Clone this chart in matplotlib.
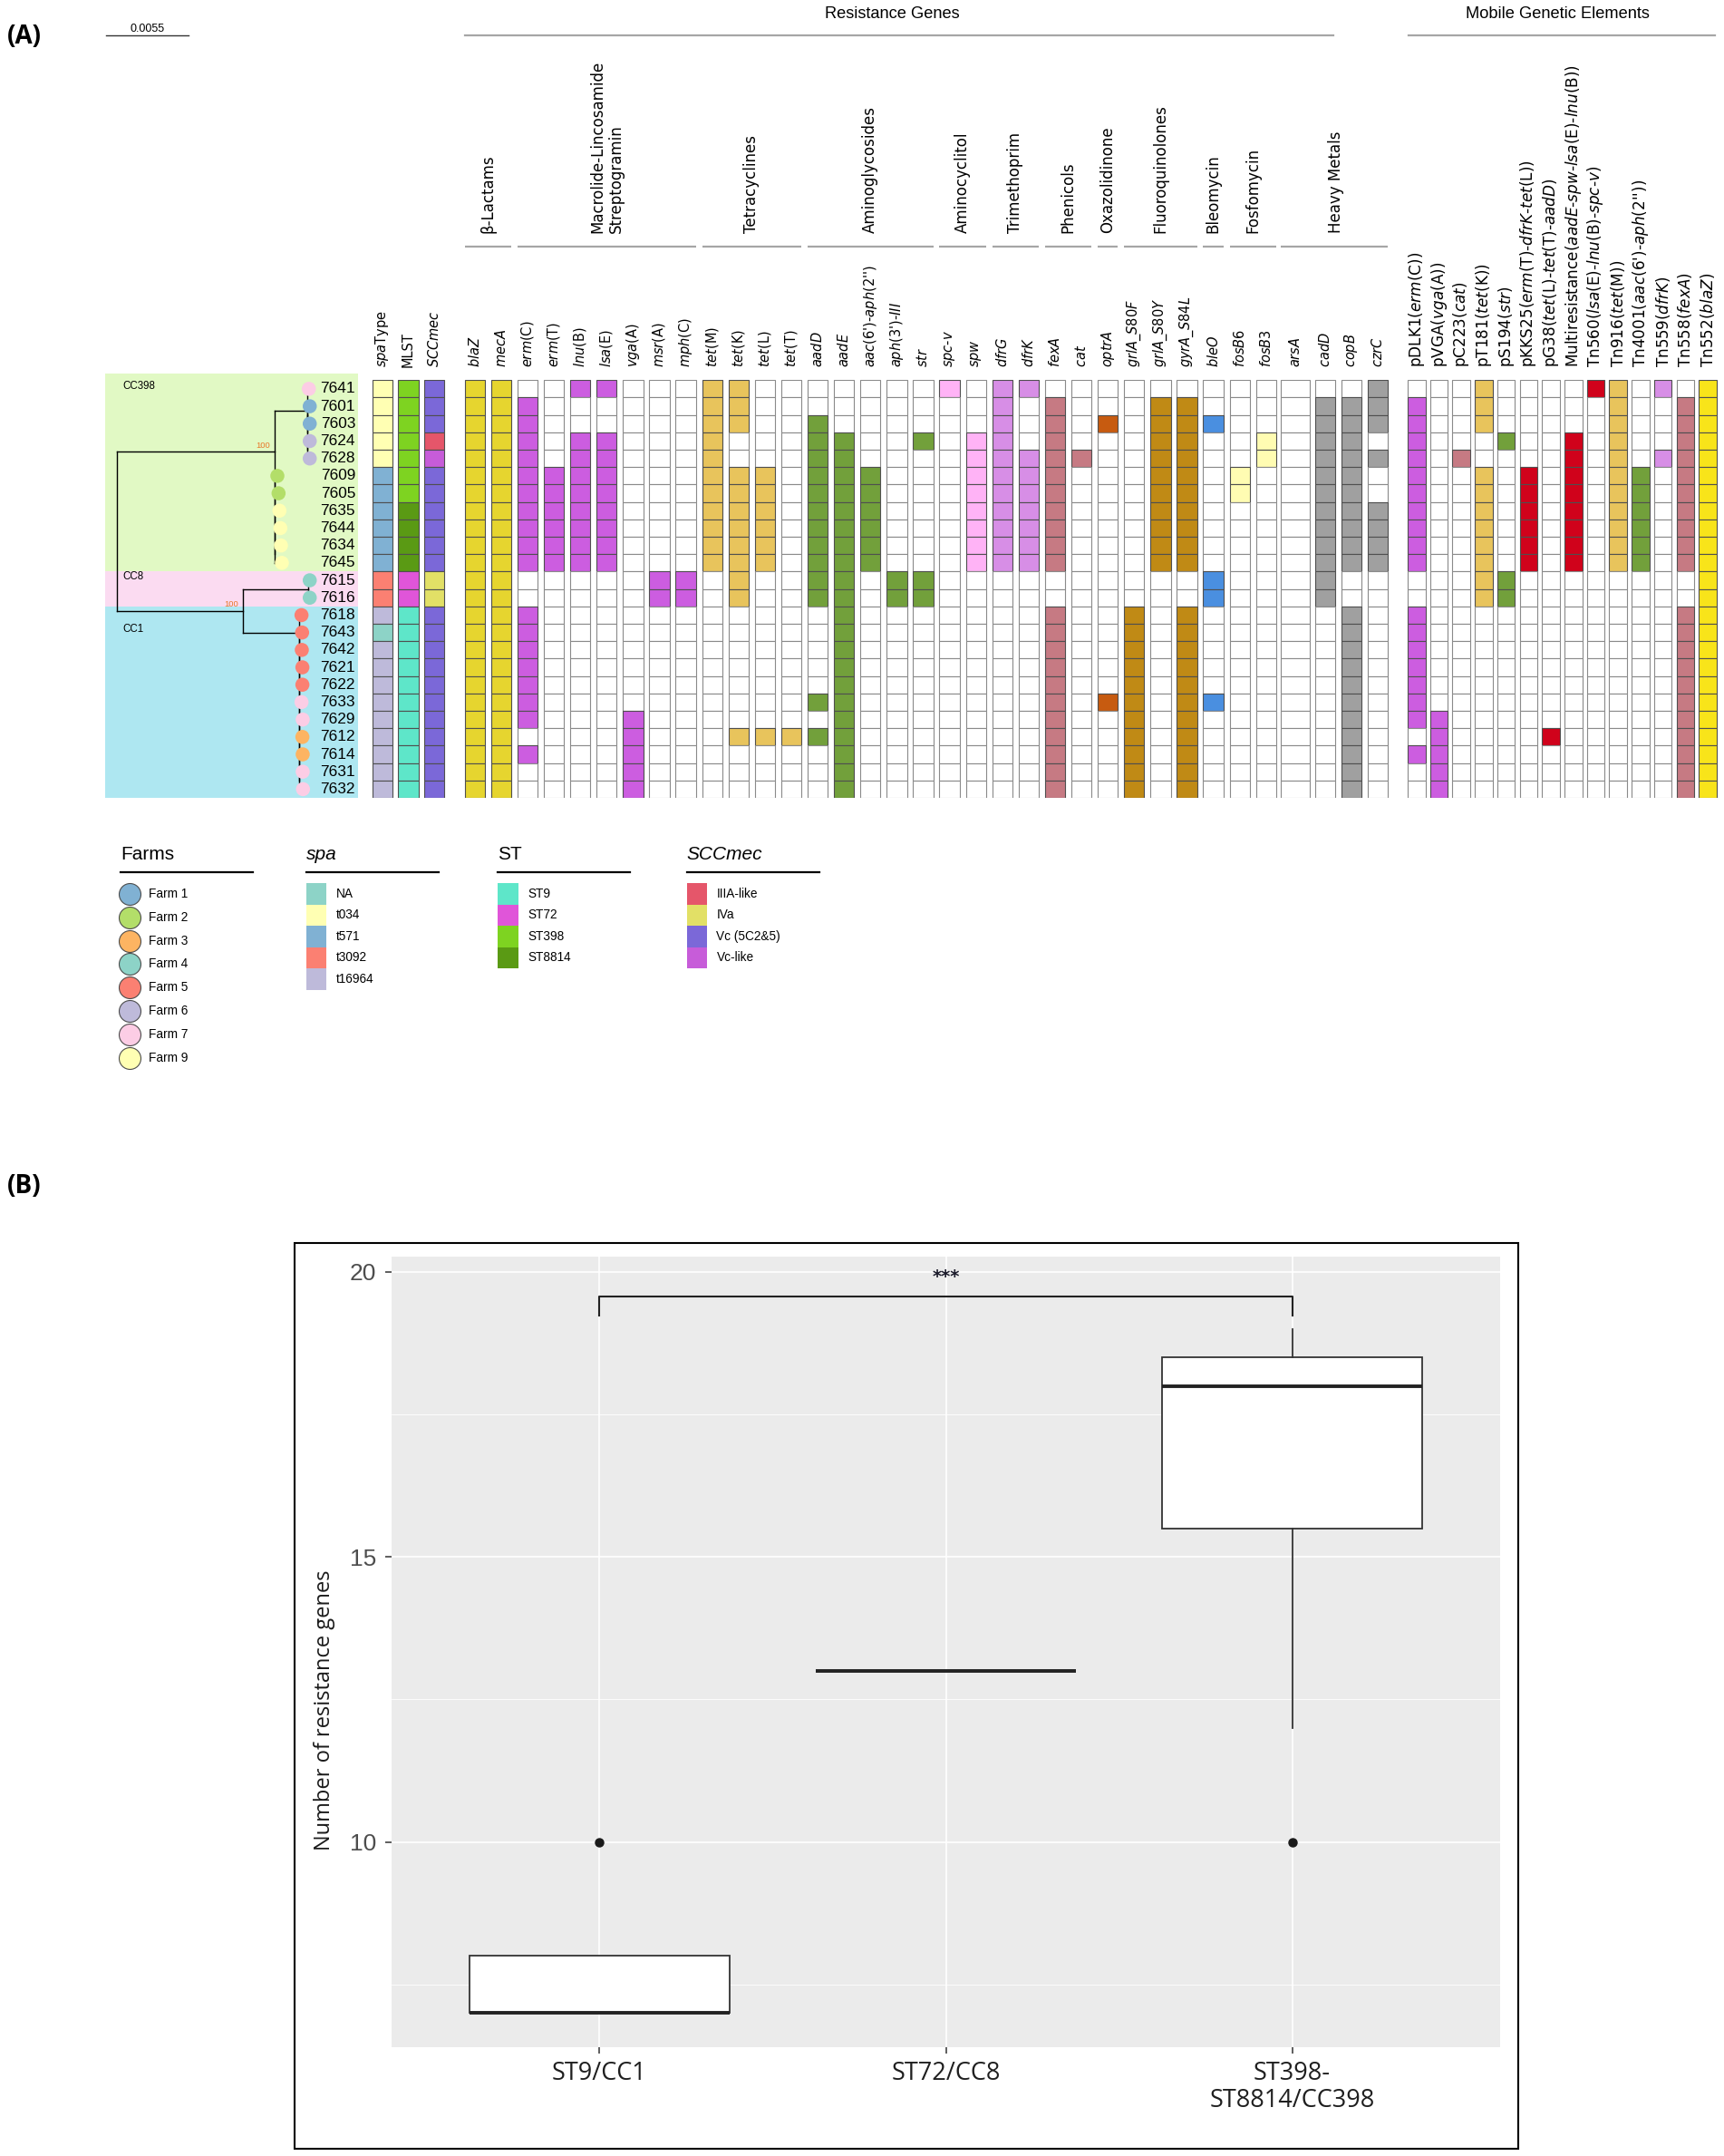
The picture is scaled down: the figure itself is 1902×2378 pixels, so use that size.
import numpy as np
import matplotlib
matplotlib.use("Agg")
import matplotlib.pyplot as plt
from matplotlib import font_manager
from matplotlib.patches import Rectangle

# ---------------- data ----------------
isolates = ["7641", "7601", "7603", "7624", "7628", "7609", "7605", "7635", "7644",
            "7634", "7645", "7615", "7616", "7618", "7643", "7642", "7621", "7622",
            "7633", "7629", "7612", "7614", "7631", "7632"]

# tip depth of each isolate in the tree (substitutions/site, root = 0)
tip_depth = [0.01278, 0.01284, 0.01284, 0.01284, 0.01284, 0.01068, 0.01076, 0.01082,
             0.01088, 0.01092, 0.01098, 0.01284, 0.01284, 0.01229, 0.01233, 0.01231,
             0.01235, 0.01235, 0.01229, 0.01237, 0.01235, 0.01237, 0.01237, 0.01239]

isolate_farm = ["Farm 7", "Farm 1", "Farm 1", "Farm 6", "Farm 6", "Farm 2", "Farm 2",
                "Farm 9", "Farm 9", "Farm 9", "Farm 9", "Farm 4", "Farm 4", "Farm 5",
                "Farm 5", "Farm 5", "Farm 5", "Farm 5", "Farm 7", "Farm 7", "Farm 3",
                "Farm 3", "Farm 7", "Farm 7"]
isolate_spa = ["t034"] * 5 + ["t571"] * 6 + ["t3092"] * 2 + ["t16964", "NA"] + ["t16964"] * 9
isolate_st = ["ST398"] * 7 + ["ST8814"] * 4 + ["ST72"] * 2 + ["ST9"] * 11
isolate_scc = ["Vc (5C2&5)"] * 3 + ["IIIA-like", "Vc-like"] + ["Vc (5C2&5)"] * 6 + \
              ["IVa"] * 2 + ["Vc (5C2&5)"] * 11

farm_names = ["Farm 1", "Farm 2", "Farm 3", "Farm 4", "Farm 5", "Farm 6", "Farm 7", "Farm 9"]
farm_colors = ["#80b1d3", "#b3de69", "#fdb462", "#8dd3c7", "#fb8072", "#bebada", "#fccde5", "#ffffb3"]
spa_types = ["NA", "t034", "t571", "t3092", "t16964"]
spa_colors = ["#8dd3c7", "#ffffb3", "#80b1d3", "#fb8072", "#bebada"]
st_types = ["ST9", "ST72", "ST398", "ST8814"]
st_colors = ["#5ee6c9", "#e055d9", "#7ed321", "#5a9a14"]
scc_types = ["IIIA-like", "IVa", "Vc (5C2&5)", "Vc-like"]
scc_colors = ["#e5566a", "#e2e066", "#7b68d8", "#c75cd9"]

res_genes = [r"$\it{blaZ}$", r"$\it{mecA}$", r"$\it{erm}$(C)", r"$\it{erm}$(T)", r"$\it{lnu}$(B)",
             r"$\it{lsa}$(E)", r"$\it{vga}$(A)", r"$\it{msr}$(A)", r"$\it{mph}$(C)", r"$\it{tet}$(M)",
             r"$\it{tet}$(K)", r"$\it{tet}$(L)", r"$\it{tet}$(T)", r"$\it{aadD}$", r"$\it{aadE}$",
             r"$\it{aac}$(6')-$\it{aph}$(2'')", r"$\it{aph}$(3')-$\it{III}$", r"$\it{str}$",
             r"$\it{spc}$-$\it{v}$", r"$\it{spw}$", r"$\it{dfrG}$", r"$\it{dfrK}$", r"$\it{fexA}$",
             r"$\it{cat}$", r"$\it{optrA}$", r"$\it{grlA\_S80F}$", r"$\it{grlA\_S80Y}$",
             r"$\it{gyrA\_S84L}$", r"$\it{bleO}$", r"$\it{fosB6}$", r"$\it{fosB3}$",
             r"$\it{arsA}$", r"$\it{cadD}$", r"$\it{copB}$", r"$\it{czrC}$"]
res_presence = [
    "111111111111111111111111",  # blaZ
    "111111111111111111111111",  # mecA
    "011111111110011111110100",  # erm(C)
    "000001111110000000000000",  # erm(T)
    "100111111110000000000000",  # lnu(B)
    "100111111110000000000000",  # lsa(E)
    "000000000000000000011111",  # vga(A)
    "000000000001100000000000",  # msr(A)
    "000000000001100000000000",  # mph(C)
    "111111111110000000000000",  # tet(M)
    "111001111111100000001000",  # tet(K)
    "000001111110000000001000",  # tet(L)
    "000000000000000000001000",  # tet(T)
    "001111111111100000101000",  # aadD
    "000111111111111111111111",  # aadE
    "000001111110000000000000",  # aac(6')-aph(2'')
    "000000000001100000000000",  # aph(3')-III
    "000100000001100000000000",  # str
    "100000000000000000000000",  # spc-v
    "000111111110000000000000",  # spw
    "111111111110000000000000",  # dfrG
    "100011111110000000000000",  # dfrK
    "011111111110011111111111",  # fexA
    "000010000000000000000000",  # cat
    "001000000000000000100000",  # optrA
    "000000000000011111111111",  # grlA_S80F
    "011111111110000000000000",  # grlA_S80Y
    "011111111110011111111111",  # gyrA_S84L
    "001000000001100000100000",  # bleO
    "000001100000000000000000",  # fosB6
    "000110000000000000000000",  # fosB3
    "000000000000000000000000",  # arsA
    "011111111111100000000000",  # cadD
    "011111111110011111111111",  # copB
    "111010011110000000000000",  # czrC
]
YEL, MAG, TAN, GRN, PNK = "#e6d52f", "#cc5de0", "#e8c45c", "#72a03b", "#ffb3f6"
LPU, MAU, ORA, BRN, BLU = "#d78ee6", "#c67a83", "#c75b10", "#c08a15", "#4a8fe0"
LYE, GRY, RED, BYE = "#fffcb2", "#a0a0a0", "#d0021b", "#f8e41a"
res_colors = [YEL, YEL] + [MAG] * 7 + [TAN] * 4 + [GRN] * 5 + [PNK] * 2 + [LPU] * 2 + \
             [MAU] * 2 + [ORA] + [BRN] * 3 + [BLU] + [LYE] * 2 + [GRY] * 4
res_groups = ["β-Lactams", "Macrolide-Lincosamide\nStreptogramin", "Tetracyclines",
              "Aminoglycosides", "Aminocyclitol", "Trimethoprim", "Phenicols", "Oxazolidinone",
              "Fluoroquinolones", "Bleomycin", "Fosfomycin", "Heavy Metals"]
res_group_size = [2, 7, 4, 5, 2, 2, 2, 1, 3, 1, 2, 4]

mge_names = [r"pDLK1($\it{erm}$(C))", r"pVGA($\it{vga}$(A))", r"pC223($\it{cat}$)",
             r"pT181($\it{tet}$(K))", r"pS194($\it{str}$)",
             r"pKKS25($\it{erm}$(T)-$\it{dfrK}$-$\it{tet}$(L))",
             r"pG38($\it{tet}$(L)-$\it{tet}$(T)-$\it{aadD}$)",
             r"Multiresistance($\it{aadE}$-$\it{spw}$-$\it{lsa}$(E)-$\it{lnu}$(B))",
             r"Tn$\it{560}$($\it{lsa}$(E)-$\it{lnu}$(B)-$\it{spc}$-$\it{v}$)",
             r"Tn$\it{916}$($\it{tet}$(M))", r"Tn$\it{4001}$($\it{aac}$(6')-$\it{aph}$(2''))",
             r"Tn559($\it{dfrK}$)", r"Tn558($\it{fexA}$)", r"Tn552($\it{blaZ}$)"]
mge_presence = [
    "011111111110011111110100",  # pDLK1
    "000000000000000000011111",  # pVGA
    "000010000000000000000000",  # pC223
    "111001111111100000000000",  # pT181
    "000100000001100000000000",  # pS194
    "000001111110000000000000",  # pKKS25
    "000000000000000000001000",  # pG38
    "000111111110000000000000",  # Multiresistance
    "100000000000000000000000",  # Tn560
    "111111111110000000000000",  # Tn916
    "000001111110000000000000",  # Tn4001
    "100010000000000000000000",  # Tn559
    "011111111110011111111111",  # Tn558
    "111111111111111111111111",  # Tn552
]
mge_colors = [MAG, MAG, MAU, TAN, GRN, RED, RED, RED, RED, TAN, GRN, LPU, MAU, BYE]

# panel B: box statistics per clonal lineage
box_labels = ["ST9/CC1", "ST72/CC8", "ST398-\nST8814/CC398"]
box_q1 = [7, 13, 15.5]
box_med = [7, 13, 18]
box_q3 = [8, 13, 18.5]
box_lo = [7, 13, 12]
box_hi = [8, 13, 19]
box_out = [[10], [], [10]]

# ---------------- fonts ----------------
installed = {f.name for f in font_manager.fontManager.ttflist}
NARROW = "Liberation Sans Narrow" if "Liberation Sans Narrow" in installed else "Liberation Sans"
NK = 1.0 if NARROW == "Liberation Sans Narrow" else 0.82
GENE_FONT = "DejaVu Sans"

# ---------------- layout (pixels, origin top-left) ----------------
W, H = 1902, 2378
ROW_TOP, ROW_BOT = 419.3, 880.0
N = len(isolates)
ROW_PX = (ROW_BOT - ROW_TOP) / N


def box(x0, x1, y0, y1):
    return [x0 / W, 1 - y1 / H, (x1 - x0) / W, (y1 - y0) / H]


fig = plt.figure(figsize=(W / 100, H / 100), dpi=100)
over = fig.add_axes([0, 0, 1, 1])
over.set_xlim(0, W)
over.set_ylim(H, 0)
over.axis("off")


def heat_axes(x0, x1, xmax):
    ax = fig.add_axes(box(x0, x1, ROW_TOP, ROW_BOT))
    ax.set_xlim(-0.5, xmax)
    ax.set_ylim(N, 0)
    ax.axis("off")
    return ax


def draw_column(ax, cx, w, cell_colors):
    edges = ["#8a8a8a" if c == "white" else "#4f4f4f" for c in cell_colors]
    ax.bar(np.full(N, cx), np.ones(N), width=w, bottom=np.arange(N), align="center",
           color=cell_colors, edgecolor=edges, linewidth=0.8)


def col_label(ax, cx, text, size):
    ax.text(cx, -14 / ROW_PX, text, rotation=90, ha="center", va="bottom", fontsize=size,
            family=GENE_FONT, clip_on=False)


# ---- metadata block ----
meta = heat_axes(407.3, 493.7, 2.5)
meta_maps = [(isolate_spa, dict(zip(spa_types, spa_colors))),
             (isolate_st, dict(zip(st_types, st_colors))),
             (isolate_scc, dict(zip(scc_types, scc_colors)))]
for i, (vals, cmap) in enumerate(meta_maps):
    draw_column(meta, i, 0.764, [cmap[v] for v in vals])
for i, lab in enumerate([r"$\it{spa}$Type", "MLST", r"$\it{SCCmec}$"]):
    col_label(meta, i, lab, 10.5)

# ---- resistance genes block ----
res_x = np.arange(len(res_genes), dtype=float)
res_x[31] += 0.1
res_x[32:] += 0.23
res_w = np.full(len(res_genes), 0.766)
res_w[31] = 1.09
res = heat_axes(509.25, 1534.4, 34.73)
for cx, w, pres, col in zip(res_x, res_w, res_presence, res_colors):
    draw_column(res, cx, w, [col if p == "1" else "white" for p in pres])
for cx, lab in zip(res_x, res_genes):
    col_label(res, cx, lab, 10.5)

start = 0
for name, size in zip(res_groups, res_group_size):
    a, b = start, start + size - 1
    res.plot([res_x[a] - res_w[a] / 2, res_x[b] + res_w[b] / 2], [-(ROW_TOP - 272) / ROW_PX] * 2,
             color="#a6a6a6", lw=1.6, clip_on=False, solid_capstyle="butt")
    res.text((res_x[a] + res_x[b]) / 2, -(ROW_TOP - 257) / ROW_PX, name, rotation=90,
             ha="center", va="bottom", multialignment="left", fontsize=12, family=GENE_FONT,
             clip_on=False)
    start += size

# ---- mobile genetic elements block ----
mge = heat_axes(1550.45, 1896.35, 13.5)
for i, (pres, col) in enumerate(zip(mge_presence, mge_colors)):
    draw_column(mge, i, 0.79, [col if p == "1" else "white" for p in pres])
for i, lab in enumerate(mge_names):
    col_label(mge, i, lab, 12.2)

# headers
over.text(984, 16, "Resistance Genes", ha="center", va="center", fontsize=16 * NK, family=NARROW)
over.plot([513, 1471], [39, 39], color="#a6a6a6", lw=1.6)
over.text(1718, 16, "Mobile Genetic Elements", ha="center", va="center", fontsize=16 * NK,
          family=NARROW)
over.plot([1554, 1892], [39, 39], color="#a6a6a6", lw=1.6)
over.text(8, 40, "(A)", ha="left", va="center", fontsize=20, fontweight="bold", family="Open Sans")

# ---- tree ----
tree_ax = fig.add_axes(box(116, 395, 412, ROW_BOT))
tree_ax.set_xlim(-0.000804, 0.01606)
tree_ax.set_ylim(N, -0.38)
tree_ax.axis("off")
tree_ax.axhspan(-0.38, 11, color="#e1f9c4", lw=0, zorder=0)
tree_ax.axhspan(11, 13, color="#fbdbf1", lw=0, zorder=0)
tree_ax.axhspan(13, N, color="#aee7f1", lw=0, zorder=0)


def ladder(x, rows):
    rows = list(rows)
    if len(rows) == 2:
        return (x, rows)
    return (x, [rows[0], ladder(x, rows[1:])])


tree = (0.0, [
    (0.01052, [(0.01269, [0, (0.01269, [(0.01269, [1, 2]), (0.01269, [3, 4])])]),
               ladder(0.01052, range(5, 11))], "100"),
    (0.00840, [(0.01273, [11, 12]), ladder(0.01213, range(13, 24))], "100"),
])


def draw_node(node):
    if isinstance(node, int):
        return tip_depth[node], node + 0.5
    x, kids = node[0], node[1]
    pts = [draw_node(k) for k in kids]
    ys = [p[1] for p in pts]
    tree_ax.plot([x, x], [min(ys), max(ys)], color="black", lw=1.0, zorder=1)
    for cx, cy in pts:
        tree_ax.plot([x, cx], [cy, cy], color="black", lw=1.0, zorder=1)
    y = float(np.mean(ys))
    if len(node) > 2:
        tree_ax.text(x - 0.0003, y - 0.12, node[2], ha="right", va="bottom", fontsize=6.8,
                     color="#e8782a", family="Liberation Sans")
    return x, y


draw_node(tree)
farm_col = dict(zip(farm_names, farm_colors))
tree_ax.scatter(tip_depth, np.arange(N) + 0.5, s=125, c=[farm_col[f] for f in isolate_farm],
                linewidths=0, zorder=3)
for r, name in enumerate(isolates):
    tree_ax.text(0.01588, r + 0.5, name, ha="right", va="center",
                 fontsize=14 if NK == 1.0 else 12.4, family=NARROW)
for lab, r in [("CC398", 0.35), ("CC8", 11.3), ("CC1", 14.3)]:
    tree_ax.text(0.00035, r, lab, ha="left", va="center", fontsize=8.3, family="Liberation Sans")
# scale bar
sb_x0, sb_y = -0.000743, -(ROW_TOP - 39) / ROW_PX
tree_ax.plot([sb_x0, sb_x0 + 0.0055], [sb_y, sb_y], color="#333333", lw=1.0, clip_on=False)
tree_ax.text(sb_x0 + 0.0055 / 2, sb_y - 0.05, "0.0055", ha="center", va="bottom", fontsize=9,
             family="Liberation Sans", clip_on=False)

# ---- legends ----
def legend_head(x, text, italic=False):
    over.text(x, 943, text, ha="left", va="center", fontsize=15, family="Liberation Sans",
              fontstyle="italic" if italic else "normal")
    over.plot([x, x + 146], [962, 962], color="black", lw=1.6)


legend_head(133, "Farms")
for i, (name, col) in enumerate(zip(farm_names, farm_colors)):
    yy = 986 + 25.8 * i
    over.scatter([143], [yy], s=298, color=col, edgecolors="#4d4d4d", linewidths=0.8, zorder=3)
    over.text(164, yy, name, ha="left", va="center", fontsize=12 * NK, family=NARROW)

for x0, title, italic, names, cols in [(337.5, "spa", True, spa_types, spa_colors),
                                       (549, "ST", False, st_types, st_colors),
                                       (757.5, "SCCmec", True, scc_types, scc_colors)]:
    legend_head(x0, title, italic)
    for i, (name, col) in enumerate(zip(names, cols)):
        yy = 974 + 23.5 * i
        over.add_patch(Rectangle((x0, yy), 22.5, 23.5, facecolor=col, edgecolor="none"))
        over.text(x0 + 33, yy + 11.75, name, ha="left", va="center", fontsize=12 * NK,
                  family=NARROW)

# ---------------- panel B ----------------
over.text(8, 1308, "(B)", ha="left", va="center", fontsize=20, fontweight="bold", family="Open Sans")
over.add_patch(Rectangle((325, 1371), 1350, 999, fill=False, edgecolor="black", lw=1.5))

axb = fig.add_axes(box(432, 1655, 1386, 2258))
axb.set_facecolor("#EBEBEB")
for s in axb.spines.values():
    s.set_visible(False)
axb.set_xlim(0.4, 3.6)
axb.set_ylim(6.4, 20.27)
axb.set_yticks([10, 15, 20])
axb.set_yticks([7.5, 12.5, 17.5], minor=True)
axb.grid(which="major", color="white", lw=1.2)
axb.grid(which="minor", axis="y", color="white", lw=0.6)
axb.set_axisbelow(True)
axb.tick_params(which="minor", length=0)
axb.tick_params(which="major", length=5, width=1.1, color="#333333")
axb.tick_params(axis="y", pad=7, labelsize=21 if NK == 1.0 else 19, labelcolor="#4d4d4d")
axb.tick_params(axis="x", pad=6)
for t in axb.get_yticklabels():
    t.set_family(NARROW)
axb.set_xticks([1, 2, 3])
axb.set_xticklabels(box_labels, fontsize=19.5, family="Open Sans", color="#1f1f1f",
                    linespacing=1.1)

stats = [dict(label=l, q1=a, med=m, q3=b, whislo=lo, whishi=hi, fliers=o)
         for l, a, m, b, lo, hi, o in zip(box_labels, box_q1, box_med, box_q3, box_lo, box_hi, box_out)]
axb.bxp(stats, positions=[1, 2, 3], widths=0.75, showcaps=False, patch_artist=True,
        manage_ticks=False,
        boxprops=dict(facecolor="white", edgecolor="#333333", linewidth=1.3),
        medianprops=dict(color="#222222", linewidth=2.8, solid_capstyle="butt"),
        whiskerprops=dict(color="#333333", linewidth=1.3),
        flierprops=dict(marker="o", markerfacecolor="#1a1a1a", markeredgecolor="#1a1a1a",
                        markersize=6.5))

# significance bracket
axb.plot([1, 1, 3, 3], [19.23, 19.57, 19.57, 19.23], color="#222222", lw=1.5)
axb.text(2, 19.82, "***", ha="center", va="baseline", fontsize=14, fontweight="bold",
         color="#1a1a2a")

over.text(358, 1886, "Number of resistance genes", rotation=90, ha="center", va="center",
          fontsize=17, family="Open Sans", color="#1a1a1a")

fig.savefig("out.png", dpi=100)
